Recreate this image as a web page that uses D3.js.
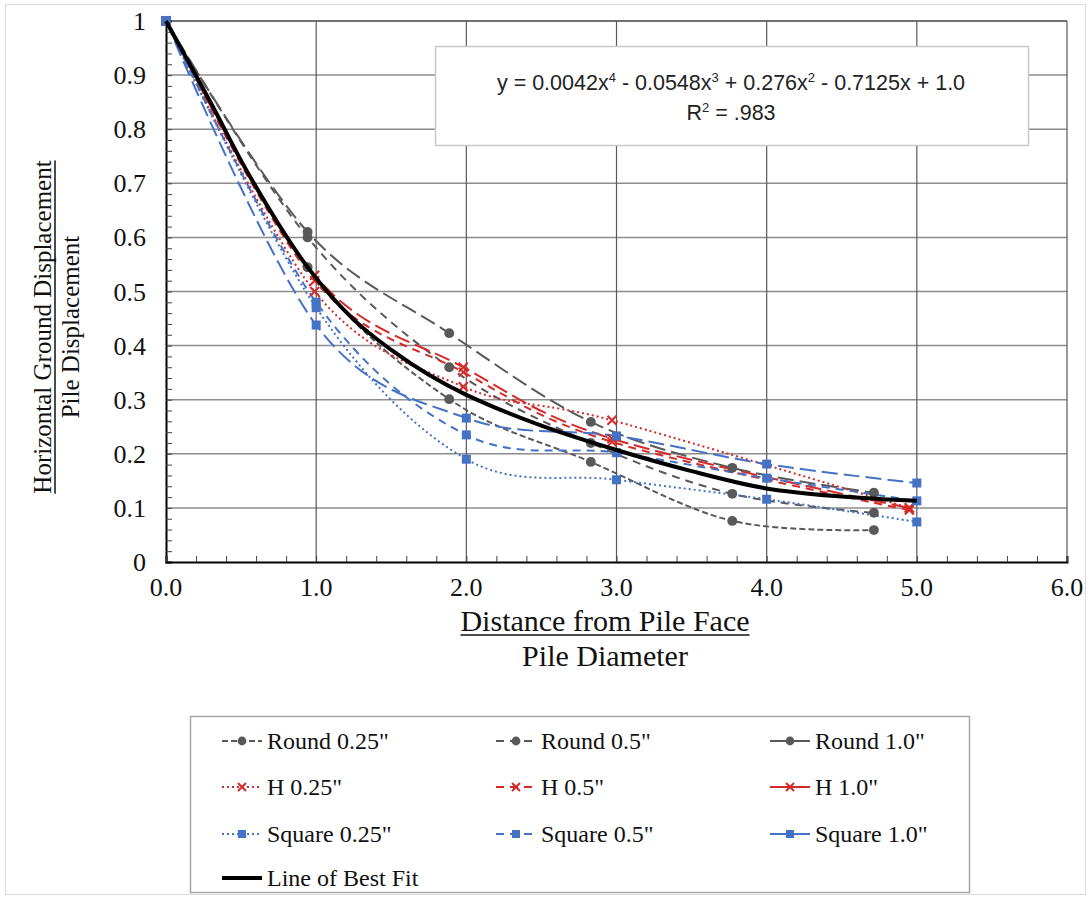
<!DOCTYPE html>
<html><head><meta charset="utf-8">
<script src="https://cdn.jsdelivr.net/npm/d3@7"></script>
<style>body{margin:0;background:#fff}svg{display:block}</style>
</head><body>
<svg id="c" width="1091" height="899"></svg>
<script>
// ---- data ----
const roundX  = [0, 0.943, 1.886, 2.829, 3.771, 4.714];
const hX      = [0, 0.99, 1.98, 2.97, 4.95];
const squareX = [0, 1, 2, 3, 4, 5];
const round025 = [1, 0.545, 0.301, 0.185, 0.076, 0.059];
const round05  = [1, 0.600, 0.360, 0.220, 0.126, 0.091];
const round10  = [1, 0.610, 0.423, 0.259, 0.174, 0.128];
const h025 = [1, 0.500, 0.324, 0.262, 0.100];
const h05  = [1, 0.520, 0.351, 0.222, 0.096];
const h10  = [1, 0.530, 0.360, 0.228, 0.100];
const sq025 = [1, 0.470, 0.190, 0.152, 0.116, 0.074];
const sq05  = [1, 0.480, 0.235, 0.202, 0.155, 0.113];
const sq10  = [1, 0.438, 0.266, 0.233, 0.181, 0.146];
const fitX = [0, 0.3, 0.56, 0.94, 1.25, 1.5, 1.75, 2, 2.5, 3, 3.5, 4, 4.5, 5];
const fitY = [1, 0.848, 0.712, 0.546, 0.448, 0.392, 0.346, 0.309, 0.252, 0.207, 0.168, 0.136, 0.121, 0.113];
const yTicks = [0, 0.1, 0.2, 0.3, 0.4, 0.5, 0.6, 0.7, 0.8, 0.9, 1];
const xTicks = [0, 1, 2, 3, 4, 5, 6];
const seriesNames = ['Round 0.25"', 'Round 0.5"', 'Round 1.0"', 'H 0.25"', 'H 0.5"', 'H 1.0"', 'Square 0.25"', 'Square 0.5"', 'Square 1.0"'];

// ---- styles ----
const GRAY = '#595959', RED = '#d42a2a', BLUE = '#4472c4';
const DOT = '2,3', DASH = '8,6', LONG = '16,6', SHORT = '6,3';
const series = [
  {name: seriesNames[0], xs: roundX, ys: round025, color: GRAY, dash: SHORT, marker: 'circle'},
  {name: seriesNames[1], xs: roundX, ys: round05,  color: GRAY, dash: DASH,  marker: 'circle'},
  {name: seriesNames[2], xs: roundX, ys: round10,  color: GRAY, dash: LONG,  marker: 'circle'},
  {name: seriesNames[3], xs: hX, ys: h025, color: RED, dash: DOT,  marker: 'x'},
  {name: seriesNames[4], xs: hX, ys: h05,  color: RED, dash: DASH, marker: 'x'},
  {name: seriesNames[5], xs: hX, ys: h10,  color: RED, dash: LONG, marker: 'x'},
  {name: seriesNames[6], xs: squareX, ys: sq025, color: BLUE, dash: DOT,  marker: 'square'},
  {name: seriesNames[7], xs: squareX, ys: sq05,  color: BLUE, dash: DASH, marker: 'square'},
  {name: seriesNames[8], xs: squareX, ys: sq10,  color: BLUE, dash: LONG, marker: 'square'}
];

const svg = d3.select('#c');
const L = 166, R = 1067, T = 21, B = 562;
const x = d3.scaleLinear().domain([0, 6]).range([L, R]);
const y = d3.scaleLinear().domain([0, 1]).range([B, T]);
const serif = '"Liberation Serif","Times New Roman",serif';

// outer border
svg.append('rect').attr('x', 5.5).attr('y', 4.5).attr('width', 1080).attr('height', 890)
  .attr('fill', '#fff').attr('stroke', '#d9d9d9').attr('stroke-width', 1);

// gridlines
svg.append('g').selectAll('line').data(yTicks.filter(d => d > 0)).join('line')
  .attr('x1', L).attr('x2', R).attr('y1', d => y(d)).attr('y2', d => y(d))
  .attr('stroke', d => d === 1 ? '#404040' : '#8c8c8c').attr('stroke-width', 1.5);
svg.append('g').selectAll('line').data(xTicks.filter(d => d > 0)).join('line')
  .attr('x1', d => x(d)).attr('x2', d => x(d)).attr('y1', T).attr('y2', B)
  .attr('stroke', '#595959').attr('stroke-width', 1.2);

// axes with inside minor ticks
const yMinor = d3.range(0, 1.0001, 0.02);
const xMinor = d3.range(0, 6.0001, 0.2);
const yAxis = svg.append('g').attr('transform', `translate(${L},0)`)
  .call(d3.axisRight(y).tickValues(yMinor).tickSize(6).tickFormat(''));
yAxis.select('.domain').attr('stroke', '#000').attr('stroke-width', 2);
yAxis.selectAll('.tick line').attr('stroke', '#404040');
const xAxis = svg.append('g').attr('transform', `translate(0,${B})`)
  .call(d3.axisTop(x).tickValues(xMinor).tickSize(6).tickFormat(''));
xAxis.select('.domain').attr('stroke', '#000').attr('stroke-width', 2);
xAxis.selectAll('.tick line').attr('stroke', '#404040');

// tick labels
svg.append('g').selectAll('text').data(yTicks).join('text')
  .attr('x', 146).attr('y', d => y(d) + 9).attr('text-anchor', 'end')
  .attr('font-family', serif).attr('font-size', 26).attr('fill', '#111')
  .text(d => d === 0 ? '0' : d === 1 ? '1' : d3.format('.1f')(d));
svg.append('g').selectAll('text').data(xTicks).join('text')
  .attr('x', d => x(d)).attr('y', 596).attr('text-anchor', 'middle')
  .attr('font-family', serif).attr('font-size', 26).attr('fill', '#111')
  .text(d => d3.format('.1f')(d));

// axis titles
const xt1 = svg.append('text').attr('x', 605).attr('y', 631).attr('text-anchor', 'middle')
  .attr('font-family', serif).attr('font-size', 30).attr('fill', '#111').text('Distance from Pile Face');
const bb1 = xt1.node().getBBox();
svg.append('line').attr('x1', bb1.x).attr('x2', bb1.x + bb1.width).attr('y1', 635).attr('y2', 635)
  .attr('stroke', '#111').attr('stroke-width', 1.5);
svg.append('text').attr('x', 605).attr('y', 666).attr('text-anchor', 'middle')
  .attr('font-family', serif).attr('font-size', 30).attr('fill', '#111').text('Pile Diameter');

const yt1 = svg.append('text').attr('transform', 'translate(51,327) rotate(-90)').attr('text-anchor', 'middle')
  .attr('font-family', serif).attr('font-size', 25).attr('fill', '#111').text('Horizontal Ground Displacement');
const w1 = yt1.node().getComputedTextLength();
svg.append('line').attr('x1', 55).attr('x2', 55).attr('y1', 327 - w1 / 2).attr('y2', 327 + w1 / 2)
  .attr('stroke', '#111').attr('stroke-width', 1.5);
svg.append('text').attr('transform', 'translate(79,327) rotate(-90)').attr('text-anchor', 'middle')
  .attr('font-family', serif).attr('font-size', 25).attr('fill', '#111').text('Pile Displacement');

// clip
svg.append('clipPath').attr('id', 'clip').append('rect').attr('x', L - 6).attr('y', T - 6).attr('width', R - L + 12).attr('height', B - T + 12);
const plot = svg.append('g').attr('clip-path', 'url(#clip)');

const line = d3.line().x(d => x(d[0])).y(d => y(d[1])).curve(d3.curveCatmullRom.alpha(0));

function drawMarker(g, m, cx, cy, color, s) {
  if (m === 'circle') g.append('circle').attr('cx', cx).attr('cy', cy).attr('r', s * 0.55).attr('fill', color);
  else if (m === 'square') g.append('rect').attr('x', cx - s / 2).attr('y', cy - s / 2).attr('width', s).attr('height', s).attr('fill', color);
  else {
    const h = s / 2;
    g.append('path').attr('d', `M${cx - h},${cy - h}L${cx + h},${cy + h}M${cx - h},${cy + h}L${cx + h},${cy - h}`)
      .attr('stroke', color).attr('stroke-width', 2).attr('fill', 'none');
  }
}

series.forEach(s => {
  const pts = s.xs.map((v, i) => [v, s.ys[i]]);
  plot.append('path').datum(pts).attr('d', line).attr('fill', 'none')
    .attr('stroke', s.color).attr('stroke-width', 2).attr('stroke-dasharray', s.dash);
});
series.forEach(s => {
  const g = plot.append('g');
  s.xs.forEach((v, i) => drawMarker(g, s.marker, x(v), y(s.ys[i]), s.color, 9));
});

// best fit
const fitPts = fitX.map((v, i) => [v, fitY[i]]);
plot.append('path').datum(fitPts).attr('d', d3.line().x(d => x(d[0])).y(d => y(d[1])).curve(d3.curveCatmullRom.alpha(0.5)))
  .attr('fill', 'none').attr('stroke', '#000').attr('stroke-width', 4);

// equation box
svg.append('rect').attr('x', 435.5).attr('y', 46.5).attr('width', 593).attr('height', 99)
  .attr('fill', '#fff').attr('stroke', '#c8c8c8').attr('stroke-width', 1.5);
const sans = '"Liberation Sans",Arial,sans-serif';
const eq = svg.append('text').attr('x', 731).attr('y', 90).attr('text-anchor', 'middle')
  .attr('font-family', sans).attr('font-size', 21.5).attr('fill', '#222');
const parts = [['y = 0.0042x', false], ['4', true], [' - 0.0548x', false], ['3', true], [' + 0.276x', false], ['2', true], [' - 0.7125x + 1.0', false]];
parts.forEach(([t, sup], i) => {
  const ts = eq.append('tspan').text(t);
  if (sup) ts.attr('font-size', 13).attr('dy', -8);
  else if (i > 0) ts.attr('dy', 8);
});
const r2 = svg.append('text').attr('x', 731).attr('y', 120).attr('text-anchor', 'middle')
  .attr('font-family', sans).attr('font-size', 21.5).attr('fill', '#222');
r2.append('tspan').text('R');
r2.append('tspan').text('2').attr('font-size', 13).attr('dy', -8);
r2.append('tspan').text(' = .983').attr('dy', 8);

// legend
svg.append('rect').attr('x', 190.5).attr('y', 716.5).attr('width', 779).attr('height', 176)
  .attr('fill', '#fff').attr('stroke', '#a6a6a6').attr('stroke-width', 1.5);
const colX = [222, 496, 770], rowY = [741, 787, 834];
series.forEach((s, i) => {
  const cx0 = colX[i % 3], cy = rowY[Math.floor(i / 3)];
  const g = svg.append('g');
  g.append('line').attr('x1', cx0).attr('x2', cx0 + 40).attr('y1', cy).attr('y2', cy)
    .attr('stroke', s.color).attr('stroke-width', 2).attr('stroke-dasharray', s.dash === LONG ? null : s.dash);
  drawMarker(g, s.marker, cx0 + 20, cy, s.color, 8);
  g.append('text').attr('x', cx0 + 45).attr('y', cy + 8).attr('font-family', serif).attr('font-size', 24)
    .attr('fill', '#111').text(s.name);
});
svg.append('line').attr('x1', 222).attr('x2', 262).attr('y1', 878).attr('y2', 878).attr('stroke', '#000').attr('stroke-width', 4);
svg.append('text').attr('x', 267).attr('y', 886).attr('font-family', serif).attr('font-size', 24).attr('fill', '#111').text('Line of Best Fit');
</script>
</body></html>
